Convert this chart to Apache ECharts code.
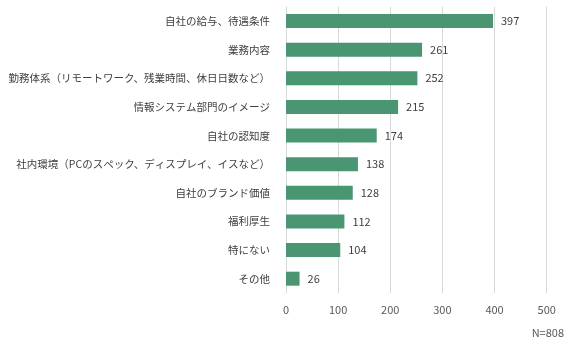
<!DOCTYPE html>
<html><head><meta charset="utf-8">
<script src="https://cdn.jsdelivr.net/npm/echarts@6/dist/echarts.min.js"></script>
<style>html,body{margin:0;padding:0;background:#fff}#c{width:569px;height:346px}</style>
</head><body><div id="c"></div>
<script>
const categories = ["自社の給与、待遇条件","業務内容","勤務体系（リモートワーク、残業時間、休日日数など）","情報システム部門のイメージ","自社の認知度","社内環境（PCのスペック、ディスプレイ、イスなど）","自社のブランド価値","福利厚生","特にない","その他"];
const values = [397,261,252,215,174,138,128,112,104,26];
const xTicks = [0,100,200,300,400,500];
const note = "N=808";
const font = "'Noto Sans CJK JP', 'Noto Sans', sans-serif";
const chart = echarts.init(document.getElementById('c'), null, {renderer:'canvas'});
chart.setOption({
  animation:false,
  textStyle:{fontFamily:font},
  grid:{left:286,right:22.3,top:6.7,bottom:53,containLabel:false,outerBoundsMode:'none'},
  xAxis:{type:'value',min:xTicks[0],max:xTicks[xTicks.length-1],interval:100,
    axisLine:{show:false},axisTick:{show:false},
    splitLine:{lineStyle:{color:'#d9d9d9',width:1}},
    axisLabel:{color:'#595959',fontSize:11,margin:11,fontFamily:font}},
  yAxis:{type:'category',data:categories,inverse:true,
    axisLine:{show:true,lineStyle:{color:'#d9d9d9'}},axisTick:{show:false},
    axisLabel:{color:'#404040',fontSize:10.5,margin:16,fontFamily:font}},
  graphic:[{type:'text',right:5,top:327,style:{text:note,fill:'#595959',font:'11px '+font}}],
  series:[{type:'bar',data:values,barWidth:14,itemStyle:{color:'#4A9673'},
    label:{show:true,position:'right',distance:8,color:'#404040',fontSize:11,fontFamily:font}}]
});
</script></body></html>
